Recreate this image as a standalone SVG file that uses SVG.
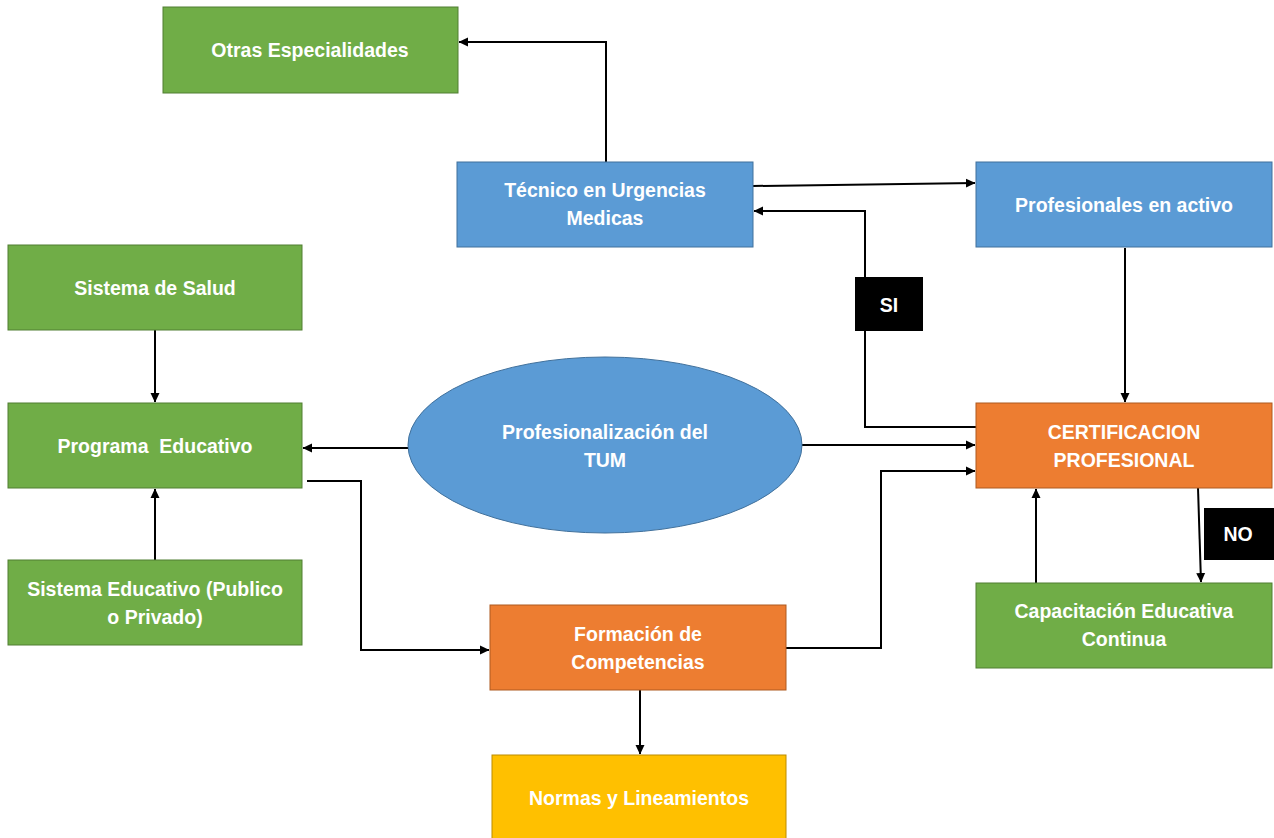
<svg xmlns="http://www.w3.org/2000/svg" width="1274" height="838" viewBox="0 0 1274 838">
<defs>
<marker id="ah" markerWidth="10" markerHeight="10" refX="9" refY="5" orient="auto" markerUnits="userSpaceOnUse">
<path d="M0,0.5 L9.5,5 L0,9.5 Z" fill="#000"/>
</marker>
<style>
.g{fill:#70AD47;stroke:#507E32;stroke-width:1}
.b{fill:#5B9BD5;stroke:#41719C;stroke-width:1}
.o{fill:#ED7D31;stroke:#AE5A21;stroke-width:1}
.y{fill:#FFC000;stroke:#BC8C00;stroke-width:1}
.k{fill:#000}
text{font-family:"Liberation Sans",Arial,sans-serif;font-weight:bold;font-size:19.5px;fill:#fff;text-anchor:middle;dominant-baseline:central}
.c{fill:none;stroke:#000;stroke-width:2;marker-end:url(#ah)}
.cn{fill:none;stroke:#000;stroke-width:2}
</style>
</defs>
<rect width="1274" height="838" fill="#fff"/>
<g id="connectors">
<path class="c" d="M606,162 V42 H459"/>
<path class="c" d="M753,186 L975,183"/>
<path class="c" d="M976,427 H865 V211 H754"/>
<path class="c" d="M1125,248 V402"/>
<path class="c" d="M802,445 H975"/>
<path class="c" d="M786,648 H881 V471 H975"/>
<path class="c" d="M1198,488 L1201,582"/>
<path class="c" d="M1036,583 V489"/>
<path class="c" d="M408,448 H303"/>
<path class="c" d="M307,481 H361 V650 H489"/>
<path class="c" d="M155,330 V402"/>
<path class="c" d="M155,560 V489"/>
<path class="c" d="M640,690 V754"/>
</g>
<g id="otras"><rect class="g" x="163" y="7" width="295" height="86"/><text x="310" y="50">Otras Especialidades</text></g>
<g id="tecnico"><rect class="b" x="457" y="162" width="296" height="85"/><text x="605" y="190">Técnico en Urgencias</text><text x="605" y="218">Medicas</text></g>
<g id="profesionales"><rect class="b" x="976" y="162" width="296" height="85"/><text x="1124" y="205">Profesionales en activo</text></g>
<g id="salud"><rect class="g" x="8" y="245" width="294" height="85"/><text x="155" y="288">Sistema de Salud</text></g>
<g id="programa"><rect class="g" x="8" y="403" width="294" height="85"/><text x="155" y="446" xml:space="preserve">Programa  Educativo</text></g>
<g id="educativo"><rect class="g" x="8" y="560" width="294" height="85"/><text x="155" y="589">Sistema Educativo (Publico</text><text x="155" y="617">o Privado)</text></g>
<g id="tum"><ellipse class="b" cx="605" cy="445" rx="197" ry="88"/><text x="605" y="432">Profesionalización del</text><text x="605" y="460">TUM</text></g>
<g id="cert"><rect class="o" x="976" y="403" width="296" height="85"/><text x="1124" y="432">CERTIFICACION</text><text x="1124" y="460">PROFESIONAL</text></g>
<g id="capacitacion"><rect class="g" x="976" y="583" width="296" height="85"/><text x="1124" y="611">Capacitación Educativa</text><text x="1124" y="639">Continua</text></g>
<g id="formacion"><rect class="o" x="490" y="605" width="296" height="85"/><text x="638" y="634">Formación de</text><text x="638" y="662">Competencias</text></g>
<g id="normas"><rect class="y" x="492" y="755" width="294" height="90"/><text x="639" y="798">Normas y Lineamientos</text></g>
<g id="si"><rect class="k" x="855" y="277" width="68" height="54"/><text x="889" y="305">SI</text></g>
<g id="no"><rect class="k" x="1204" y="508" width="70" height="52"/><text x="1238" y="534">NO</text></g>
</svg>
